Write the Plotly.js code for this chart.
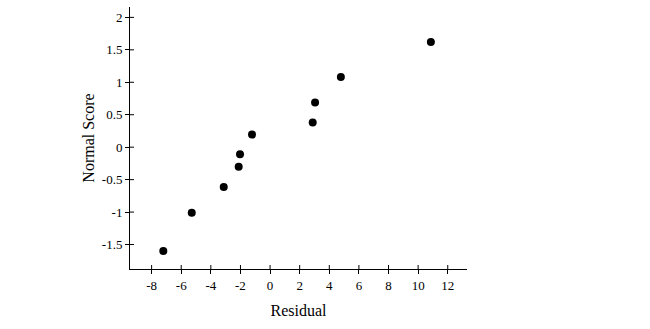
<!DOCTYPE html>
<html>
<head>
<meta charset="utf-8">
<script src="https://cdn.plot.ly/plotly-3.0.1.min.js"></script>
<style>html,body{margin:0;padding:0;background:#fff;}#chart{width:650px;height:329px;}</style>
</head>
<body>
<div id="chart"></div>
<script>
const residual = [10.86, 4.78, 3.04, 2.88, -1.22, -2.03, -2.12, -3.13, -5.29, -7.21];
const normalScore = [1.62, 1.08, 0.69, 0.38, 0.195, -0.11, -0.30, -0.615, -1.01, -1.60];
const xTickVals = [-8, -6, -4, -2, 0, 2, 4, 6, 8, 10, 12];
const xTickText = ["-8", "-6", "-4", "-2", "0", "2", "4", "6", "8", "10", "12"];
const yTickVals = [-1.5, -1, -0.5, 0, 0.5, 1, 1.5, 2];
const yTickText = ["-1.5", "-1", "-0.5", "0", "0.5", "1", "1.5", "2"];

const xRange = [-9.46, 13.3];
const yRange = [-1.877, 2.16];
const font = "Liberation Serif, DejaVu Serif, serif";

const traces = [
  {x: residual, y: normalScore, type: "scatter", mode: "markers",
   marker: {color: "#000", size: 8}, hoverinfo: "skip", showlegend: false}
];

const axisCommon = {showgrid: false, zeroline: false, showline: true, linecolor: "#000", linewidth: 1,
  ticklen: 4, tickwidth: 1, tickcolor: "#000", tickmode: "array", fixedrange: true, ticks: "outside"};

// inner halves of the crossing tick marks, placed at the axes' tick values
const innerTicks = [];
xTickVals.forEach(v => innerTicks.push({type: "line", xref: "x", yref: "paper",
  ysizemode: "pixel", yanchor: 0, x0: v, x1: v, y0: 0, y1: 4, line: {color: "#000", width: 1}}));
yTickVals.forEach(v => innerTicks.push({type: "line", xref: "paper", yref: "y",
  xsizemode: "pixel", xanchor: 0, y0: v, y1: v, x0: 0, x1: 4, line: {color: "#000", width: 1}}));

const layout = {
  width: 650, height: 329,
  margin: {l: 130, r: 183, t: 7, b: 60},
  paper_bgcolor: "#fff", plot_bgcolor: "#fff",
  font: {family: font, color: "#000", size: 13},
  xaxis: Object.assign({}, axisCommon, {range: xRange, tickvals: xTickVals, ticktext: xTickText,
    tickfont: {family: font, size: 13},
    title: {text: "Residual", font: {family: font, size: 16}, standoff: 13}}),
  yaxis: Object.assign({}, axisCommon, {range: yRange, tickvals: yTickVals, ticktext: yTickText,
    tickfont: {family: font, size: 13},
    title: {text: "Normal Score", font: {family: font, size: 16}, standoff: 3}}),
  shapes: innerTicks
};

Plotly.newPlot("chart", traces, layout, {displayModeBar: false, staticPlot: true});
</script>
</body>
</html>
